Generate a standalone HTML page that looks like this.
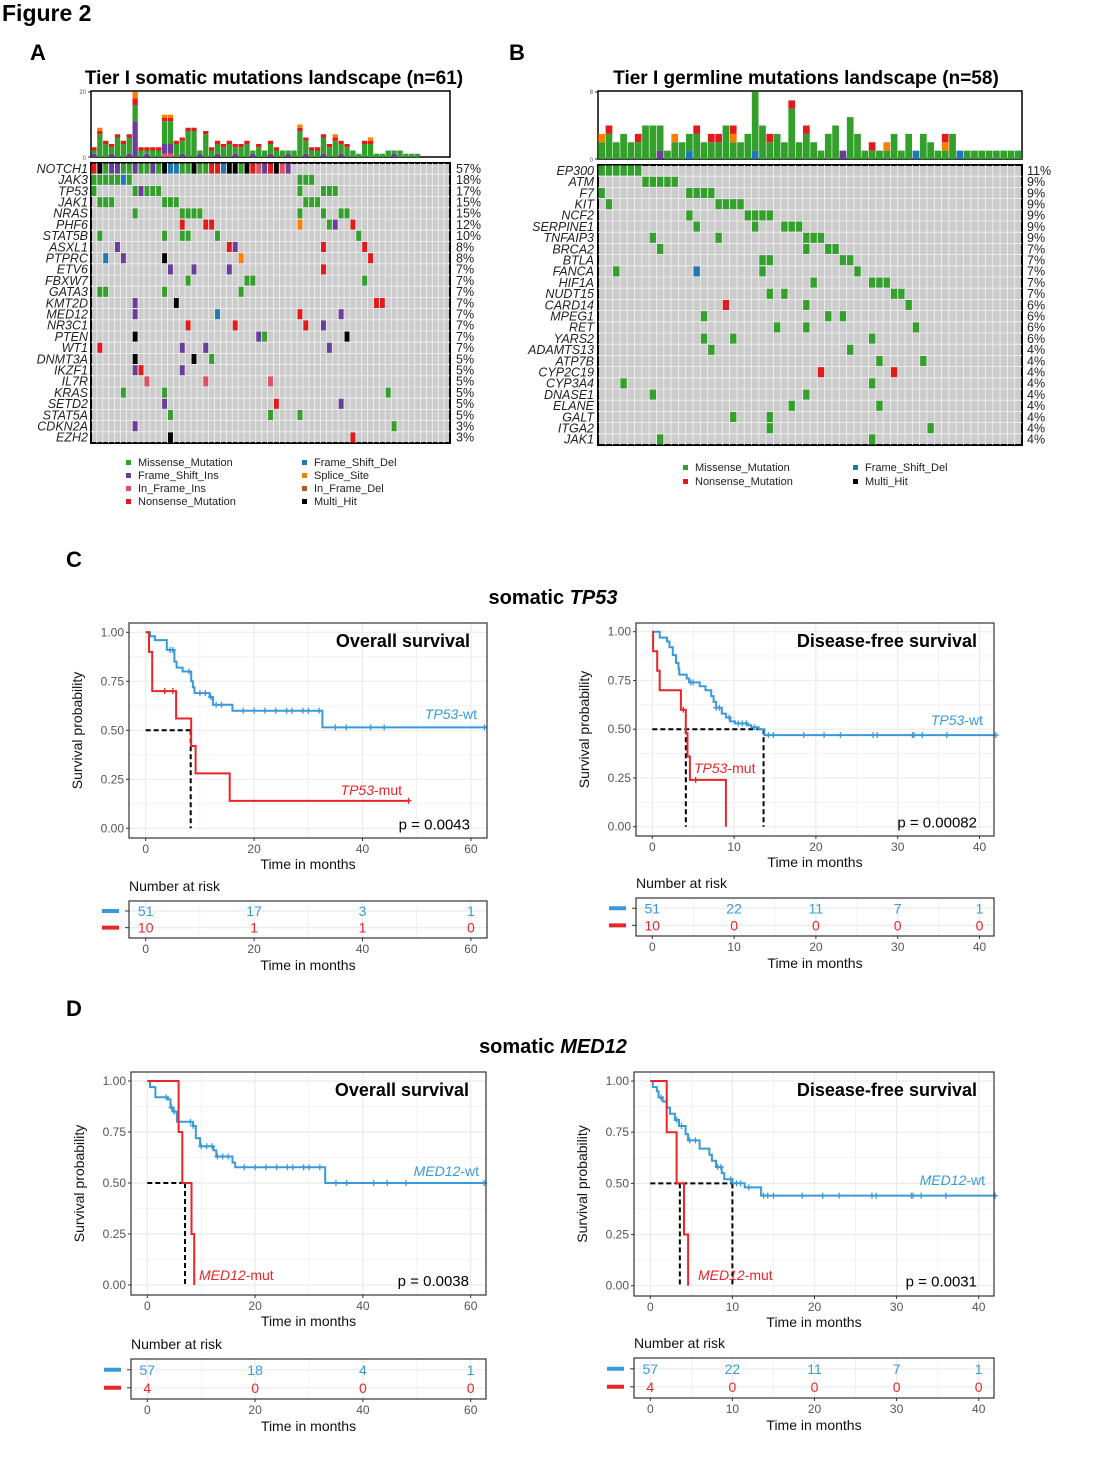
<!DOCTYPE html>
<html><head><meta charset="utf-8"><style>
body{margin:0;background:#fff;}
svg{display:block;font-family:"Liberation Sans",Arial,sans-serif;}
</style></head><body>
<svg id="s" width="1106" height="1466" viewBox="0 0 1106 1466" xmlns="http://www.w3.org/2000/svg"></svg>
<script>
var o=[];
function t(x,y,s,str,a){o.push('<text x="'+x+'" y="'+y+'" font-size="'+s+'" '+(a||'')+'>'+str+'</text>');}
function r(x,y,w,h,f,a){o.push('<rect x="'+x.toFixed(2)+'" y="'+y.toFixed(2)+'" width="'+w.toFixed(2)+'" height="'+h.toFixed(2)+'" fill="'+f+'" '+(a||'')+'/>');}
function l(x1,y1,x2,y2,c,w,a){o.push('<line x1="'+x1.toFixed(2)+'" y1="'+y1.toFixed(2)+'" x2="'+x2.toFixed(2)+'" y2="'+y2.toFixed(2)+'" stroke="'+c+'" stroke-width="'+w+'" '+(a||'')+'/>');}
var C={g:'#33a02c',p:'#6a3d9a',r:'#e31a1c',b:'#1f78b4',o:'#ff7f00',k:'#000000',i:'#e05060',n:'#b15928'};

t(2,21,23,'Figure 2','font-weight="bold"');
t(30,60,22,'A','font-weight="bold"');
t(509,60,22,'B','font-weight="bold"');
t(274,84,19,'Tier I somatic mutations landscape (n=61)','font-weight="bold" text-anchor="middle"');
t(806,84,19,'Tier I germline mutations landscape (n=58)','font-weight="bold" text-anchor="middle"');

function onco(P){
  var nc=P.nc,ng=P.genes.length,cw=P.w/nc,rh=P.h/ng;
  r(P.x,P.by,P.w,P.bh,'#fff','stroke="#000" stroke-width="1.5"');
  l(P.x-3,P.by+1,P.x,P.by+1,'#000',0.8);l(P.x-3,P.by+P.bh,P.x,P.by+P.bh,'#000',0.8);
  t(P.x-5,P.by+3,6,P.bmax,'text-anchor="end" fill="#555"');t(P.x-5,P.by+P.bh+3,6,'0','text-anchor="end" fill="#555"');
  var u=(P.bh-1)/P.bmax;
  P.bars.forEach(function(seg,c){var y=P.by+P.bh;for(var k=0;k<seg.length;k++){var col=seg[k][0],n=seg[k][1];y-=n*u;r(P.x+c*cw+0.3,y,cw-0.6,n*u,C[col]);}});
  r(P.x,P.y,P.w,P.h,'#cccccc','stroke="#000" stroke-width="2"');
  for(var c=1;c<nc;c++)l(P.x+c*cw,P.y,P.x+c*cw,P.y+P.h,'#f2f2f2',0.8);
  for(var g=1;g<ng;g++)l(P.x,P.y+g*rh,P.x+P.w,P.y+g*rh,'#f2f2f2',0.8);
  P.genes.forEach(function(gn,g){
    t(P.lx,P.y+g*rh+rh*0.5+4.3,12.5,gn,'font-style="italic" text-anchor="end" fill="#222"');
    t(P.px,P.y+g*rh+rh*0.5+4.3,12.5,P.pct[g],'fill="#222"');
    var d=P.data[g];
    d.split(' ').forEach(function(e){if(!e)return;var ci=parseInt(e),cc=e.slice(-1);r(P.x+ci*cw+0.5,P.y+g*rh+0.6,cw-1,rh-1.2,C[cc]);});
  });
}
var nA="rkgppggpggpgkbbggkggrrbkkgkriprkip".split('').map(function(c,i){return i+c}).join(' ');
var hA=[3,9,5,4,7,5,7,20,3,3,3,3,14,13,5,6,9,9,2,8,3,5,4,5,4,4,5,2,4,2,5,3,2,2,2,10,6,3,3,7,4,7,5,4,2,1,5,6,1,1,2,2,2,1,1,1,0,0,0,0,0];
var barsA=hA.map(function(h,c){var s=[];if(h==0)return s;var rem=h;
 if(c%3==0&&h>1){s.push(['p',1]);rem--;}
 if(c==7){s=[['p',11],['g',5],['r',2],['o',2]];return s;}
 if(c==12||c==13){s=[['i',1],['p',3],['g',7],['r',1],['o',1]];return s;}
 var top=[];if(h>=3){top.push(['r',1]);rem--;} if([1,13,35,41,47].indexOf(c)>=0&&rem>1){top.push(['o',1]);rem--;}
 if(rem>0)s.push(['g',rem]);return s.concat(top);});
onco({x:91,y:163,w:359,h:280,nc:61,by:91,bh:66,bmax:20,lx:88,px:456,bars:barsA,
 genes:['NOTCH1','JAK3','TP53','JAK1','NRAS','PHF6','STAT5B','ASXL1','PTPRC','ETV6','FBXW7','GATA3','KMT2D','MED12','NR3C1','PTEN','WT1','DNMT3A','IKZF1','IL7R','KRAS','SETD2','STAT5A','CDKN2A','EZH2'],
 pct:['57%','18%','17%','15%','15%','12%','10%','8%','8%','7%','7%','7%','7%','7%','7%','7%','7%','5%','5%','5%','5%','5%','5%','3%','3%'],
 data:[nA,'0g 1g 2g 3g 4g 5b 6g 35g 36g 37g','0g 7g 8p 9g 10g 11g 35g 39g 40g 41g','1g 2g 3g 12g 13g 14g 36g 37g 38g',
 '7g 15g 16g 17g 18g 35g 39g 42g 43g','15r 19r 20r 35o 40g 41p 44r','1g 12g 15g 16g 21g 45g','4p 23r 24p 39r 46r','2b 5p 12k 25o 47r',
 '13p 17p 23p 39r','16g 26g 27g 46g','1g 2g 12g 25g','7p 14k 48r 49r','7p 21b 35r 42p','16r 24r 36r 39p','7k 28p 29g 43k',
 '1r 15p 19p 40p','7k 17k 20g','7p 8r 15p','9i 19i 30i','5g 12g 50g','12p 31r 42p','13g 30g 35g','7p 51g','13k 44r']});
var hB=[3,4,2,3,2,3,4,4,4,1,3,2,3,4,2,3,3,4,4,2,3,8,4,3,3,2,7,2,4,2,1,3,4,1,5,3,1,2,1,2,3,1,3,1,3,2,1,3,3,1,1,1,1,1,1,1,1,1];
var redB=[1,5,13,15,16,18,23,26,28,37,47],orB=[0,10,18,39,47],blB=[12,21,43,49],puB=[8,33];
var barsB=hB.map(function(h,c){var s=[],rem=h,top=[];
 if(blB.indexOf(c)>=0){s.push(['b',1]);rem--;} if(puB.indexOf(c)>=0){s.push(['p',1]);rem--;}
 if(orB.indexOf(c)>=0&&rem>0){top.unshift(['o',1]);rem--;} if(redB.indexOf(c)>=0&&rem>0){top.push(['r',1]);rem--;}
 if(rem>0)s.push(['g',rem]);return s.concat(top);});
onco({x:598,y:165,w:424,h:280,nc:58,by:91,bh:68,bmax:8,lx:594,px:1027,bars:barsB,
 genes:['EP300','ATM','F7','KIT','NCF2','SERPINE1','TNFAIP3','BRCA2','BTLA','FANCA','HIF1A','NUDT15','CARD14','MPEG1','RET','YARS2','ADAMTS13','ATP7B','CYP2C19','CYP3A4','DNASE1','ELANE','GALT','ITGA2','JAK1'],
 pct:['11%','9%','9%','9%','9%','9%','9%','7%','7%','7%','7%','7%','6%','6%','6%','6%','4%','4%','4%','4%','4%','4%','4%','4%','4%'],
 data:['0g 1g 2g 3g 4g 5g','6g 7g 8g 9g 10g','0g 12g 13g 14g 15g','1g 16g 17g 18g 19g','12g 20g 21g 22g 23g','13g 21g 25g 26g 27g',
 '7g 16g 28g 29g 30g','8g 28g 31g 32g','22g 23g 33g 34g','2g 13b 22g 35g','29g 37g 38g 39g','23g 25g 40g 41g','17r 28g 42g','14g 31g 33g',
 '24g 28g 43g','14g 18g 37g','15g 34g','38g 44g','30r 40r','3g 37g','7g 28g','26g 38g','18g 23g','23g 45g','8g 37g']});
function leg(x,y,c,s){r(x,y-6,5,5,C[c]);t(x+12,y,11,s,'fill="#222"');}
leg(126,466,'g','Missense_Mutation');leg(126,479,'p','Frame_Shift_Ins');leg(126,492,'i','In_Frame_Ins');leg(126,505,'r','Nonsense_Mutation');
leg(302,466,'b','Frame_Shift_Del');leg(302,479,'o','Splice_Site');leg(302,492,'n','In_Frame_Del');leg(302,505,'k','Multi_Hit');
leg(683,471,'g','Missense_Mutation');leg(683,485,'r','Nonsense_Mutation');leg(853,471,'b','Frame_Shift_Del');leg(853,485,'k','Multi_Hit');

t(66,567,22,'C','font-weight="bold"');t(66,1016,22,'D','font-weight="bold"');
t(553,604,20,'somatic <tspan font-style="italic">TP53</tspan>','font-weight="bold" text-anchor="middle"');
t(553,1053,20,'somatic <tspan font-style="italic">MED12</tspan>','font-weight="bold" text-anchor="middle"');

var BL='#3a9ad9',RD='#e8262a';
function km(P){
  var X=function(v){return P.x0+v*P.sx},Y=function(s){return P.y0+(P.y1-P.y0)*s};
  r(P.bx1,P.by1,P.bx2-P.bx1,P.by2-P.by1,'#fff');
  var step=P.tick/2;
  for(var v=0;X(v)<P.bx2;v+=step)l(X(v),P.by1,X(v),P.by2,'#ebebeb',v%P.tick==0?1.2:0.6);
  for(var s=0;s<=1.001;s+=0.125)l(P.bx1,Y(s),P.bx2,Y(s),'#ebebeb',(Math.round(s*8)%2==0)?1.2:0.6);
  ['0.00','0.25','0.50','0.75','1.00'].forEach(function(lb,i){var yy=Y(i*0.25);l(P.bx1-3,yy,P.bx1,yy,'#333',1);t(P.bx1-5,yy+4,12,lb,'text-anchor="end" fill="#555"');});
  for(var v=0;v<=P.xmax;v+=P.tick){l(X(v),P.by2,X(v),P.by2+3,'#333',1);t(X(v),P.by2+15,12,v,'text-anchor="middle" fill="#555"');}
  t(P.bx1-47,(P.by1+P.by2)/2,14,'Survival probability','text-anchor="middle" transform="rotate(-90 '+(P.bx1-47)+' '+((P.by1+P.by2)/2)+')" fill="#111"');
  t((P.bx1+P.bx2)/2,P.by2+31,14,'Time in months','text-anchor="middle" fill="#111"');
  P.dash.forEach(function(d){l(X(d[0]),Y(d[1]),X(d[2]),Y(d[3]),'#000',2,'stroke-dasharray="5,3"');});
  P.curves.forEach(function(cv){
    var d='M'+X(0).toFixed(1)+' '+Y(1).toFixed(1);
    cv.p.forEach(function(q){d+=' H'+X(q[0]).toFixed(1)+' V'+Y(q[1]).toFixed(1);});
    d+=' H'+Math.min(X(cv.end),P.bx2).toFixed(1);
    o.push('<path d="'+d+'" fill="none" stroke="'+cv.c+'" stroke-width="2"/>');
    cv.cens.forEach(function(tc){var s=1;cv.p.forEach(function(q){if(q[0]<=tc)s=q[1];});var xx=X(tc),yy=Y(s);l(xx-3,yy,xx+3,yy,cv.c,1.3);l(xx,yy-3,xx,yy+3,cv.c,1.3);});
  });
  r(P.bx1,P.by1,P.bx2-P.bx1,P.by2-P.by1,'none','stroke="#333" stroke-width="1.2"');
  t(P.bx2-17,P.by1+24,18,P.title,'font-weight="bold" text-anchor="end"');
  t(P.bx2-17,P.y0+1,15,'p = '+P.pv,'text-anchor="end"');
  t(P.wl[0],P.wl[1],14,'<tspan font-style="italic">'+P.g+'</tspan>-wt','text-anchor="end" fill="'+BL+'"');
  t(P.ml[0],P.ml[1],14,'<tspan font-style="italic">'+P.g+'</tspan>-mut','text-anchor="'+(P.ml[2]||'start')+'" fill="'+RD+'"');
  var R=P.risk;
  t(P.bx1,R.y1-10,14,'Number at risk','fill="#111"');
  r(P.bx1,R.y1,P.bx2-P.bx1,R.y2-R.y1,'#fff');
  for(var v=0;X(v)<P.bx2;v+=step)l(X(v),R.y1,X(v),R.y2,'#ebebeb',v%P.tick==0?1.2:0.6);
  var ra=R.y1+(R.y2-R.y1)*0.27,rb=R.y1+(R.y2-R.y1)*0.72;
  l(P.bx1,ra,P.bx2,ra,'#ebebeb',1.2);l(P.bx1,rb,P.bx2,rb,'#ebebeb',1.2);
  r(P.bx1,R.y1,P.bx2-P.bx1,R.y2-R.y1,'none','stroke="#333" stroke-width="1.2"');
  l(P.bx1-27,ra,P.bx1-10,ra,BL,4);l(P.bx1-27,rb,P.bx1-10,rb,RD,4);
  l(P.bx1-4,ra,P.bx1,ra,'#333',1);l(P.bx1-4,rb,P.bx1,rb,'#333',1);
  R.a.forEach(function(n,i){t(X(i*P.tick),ra+5,14,n,'text-anchor="middle" fill="'+BL+'"');});
  R.b.forEach(function(n,i){t(X(i*P.tick),rb+5,14,n,'text-anchor="middle" fill="'+RD+'"');});
  for(var v=0;v<=P.xmax;v+=P.tick){l(X(v),R.y2,X(v),R.y2+3,'#333',1);t(X(v),R.y2+15,12,v,'text-anchor="middle" fill="#555"');}
  t((P.bx1+P.bx2)/2,R.y2+32,14,'Time in months','text-anchor="middle" fill="#111"');
}
var osWt=[[0.8,.98],[1.7,.96],[3.9,.91],[5.3,.85],[5.7,.82],[6.8,.80],[8.4,.75],[8.7,.72],[9,.69],[11.8,.67],[12.4,.63],[16,.60],[32.6,.515]];
km({bx1:129,by1:623,bx2:487,by2:838,x0:145.7,sx:5.42,y1:632.3,y0:828.3,xmax:60,tick:20,title:'Overall survival',pv:'0.0043',g:'TP53',
 wl:[477,719],ml:[402,795,'end'],
 dash:[[0,.5,8.3,.5],[8.3,.5,8.3,0]],
 curves:[{c:BL,end:63,p:osWt,cens:[4.5,5,8,10,11,12,13,14,18,20,22,24,26,27,29,30,32,35,37,41.5,44,62.5]},
 {c:RD,end:48.5,p:[[0.6,.9],[1.2,.7],[5.6,.56],[8.4,.42],[9.2,.28],[15.5,.14]],cens:[3.5,5,48.5]}],
 risk:{y1:901,y2:938,a:[51,17,3,1],b:[10,1,1,0]}});
var dfsWt=[[0.9,.97],[1.8,.95],[2.1,.92],[2.5,.88],[2.9,.84],[3.2,.81],[3.3,.78],[4.2,.76],[4.5,.74],[5.8,.72],[6.5,.70],[7.2,.67],[7.5,.64],[7.8,.61],[8.5,.58],[9,.56],[9.5,.54],[10.1,.53],[11.6,.52],[12.1,.51],[13,.50],[13.7,.47]];
km({bx1:636,by1:623,bx2:994,by2:836,x0:652.3,sx:8.18,y1:631.7,y0:826.7,xmax:40,tick:10,title:'Disease-free survival',pv:'0.00082',g:'TP53',
 wl:[983,725],ml:[694,773],
 dash:[[0,.5,13.6,.5],[4.1,.5,4.1,0],[13.6,.5,13.6,0]],
 curves:[{c:BL,end:43,p:dfsWt,cens:[4.7,5,7.8,8.2,9.4,10.5,11,11.5,12.5,14.2,14.8,18.5,21,23,27,27.5,31.8,32,33,36,42]},
 {c:RD,end:9,p:[[0.1,.9],[0.6,.8],[0.9,.7],[3.5,.6],[4.1,.48],[4.3,.36],[4.6,.24],[9,0]],cens:[3.8,5.3]}],
 risk:{y1:898,y2:936,a:[51,22,11,7,1],b:[10,0,0,0,0]}});
var osWt2=[[0.5,.97],[1.5,.92],[3.8,.91],[4.3,.87],[4.8,.85],[5.5,.80],[8.5,.78],[9,.72],[9.8,.68],[12.3,.66],[12.8,.63],[15.8,.60],[16.3,.577],[33,.50]];
km({bx1:131,by1:1072,bx2:486,by2:1295,x0:147.3,sx:5.39,y1:1081,y0:1285,xmax:60,tick:20,title:'Overall survival',pv:'0.0038',g:'MED12',
 wl:[479,1176],ml:[199,1280],
 dash:[[0,.5,7,.5],[7,.5,7,0]],
 curves:[{c:BL,end:63,p:osWt2,cens:[3.5,4.5,5,8,8.5,10,11,12,13,14,15,18,20,22,24,26,27,29,30,32,35,37,42,44.5,48,62.5]},
 {c:RD,end:8.7,p:[[5.8,.75],[6.5,.5],[8.2,.25],[8.7,0]],cens:[]}],
 risk:{y1:1359,y2:1399,a:[57,18,4,1],b:[4,0,0,0]}});
var dfsWt2=[[0.3,.97],[0.8,.95],[1,.92],[1.5,.9],[2,.87],[2.4,.84],[3,.81],[3.5,.78],[4.3,.74],[4.6,.71],[6,.67],[7.2,.64],[7.5,.61],[8,.58],[8.7,.55],[9,.52],[10,.5],[11.5,.48],[13.5,.44]];
km({bx1:634,by1:1072,bx2:994,by2:1296,x0:650.3,sx:8.21,y1:1081,y0:1285.7,xmax:40,tick:10,title:'Disease-free survival',pv:'0.0031',g:'MED12',
 wl:[985,1185],ml:[698,1280],
 dash:[[0,.5,10,.5],[3.6,.5,3.6,0],[10,.5,10,0]],
 curves:[{c:BL,end:43,p:dfsWt2,cens:[1.3,3.2,3.8,4.8,5.5,8.2,8.6,9.8,10.5,11,12,13.8,14.3,15,18.5,21,23,27,27.5,31.8,32,33,36,42]},
 {c:RD,end:4.6,p:[[2,.75],[3.2,.5],[4.1,.25],[4.6,0]],cens:[]}],
 risk:{y1:1358,y2:1398,a:[57,22,11,7,1],b:[4,0,0,0,0]}});
document.getElementById('s').innerHTML=o.join('');
</script>
</body></html>
